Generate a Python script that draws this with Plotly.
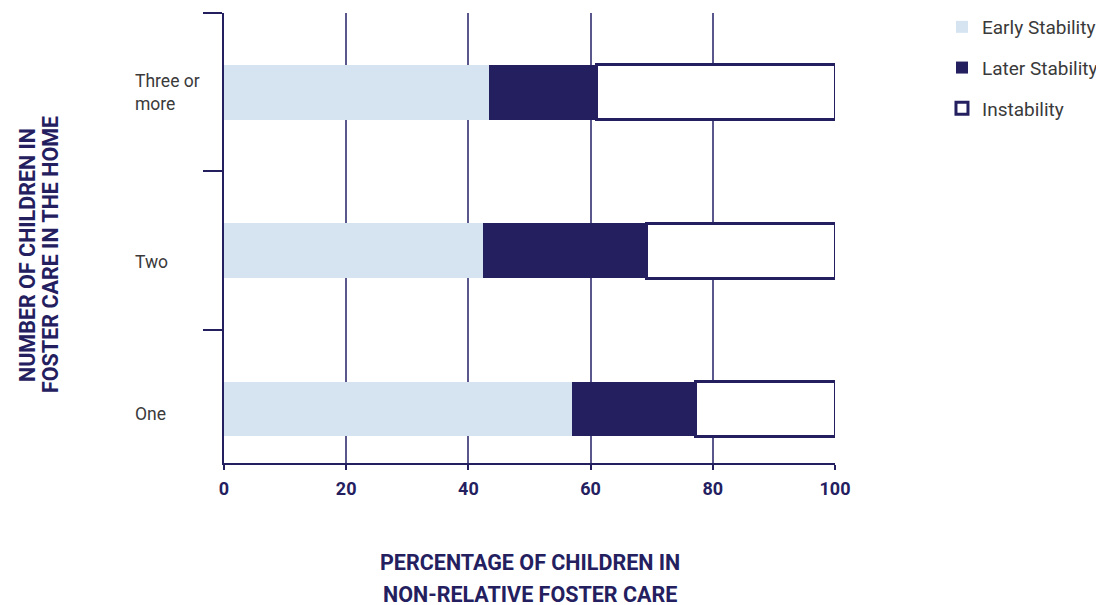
import plotly.graph_objects as go

categories = ["One", "Two", "Three or more"]
category_labels = ["One", "Two", "Three or<br>more"]
early_stability = [56.9, 42.4, 43.3]
later_stability = [20.3, 26.8, 17.6]
instability = [22.8, 30.8, 39.1]
x_ticks = [0, 20, 40, 60, 80, 100]
y_title_lines = ["NUMBER OF CHILDREN IN", "FOSTER CARE IN THE HOME"]
x_title_lines = ["PERCENTAGE OF CHILDREN IN", "NON-RELATIVE FOSTER CARE"]

NAVY = "#24205f"
LIGHT = "#d6e4f1"
GRID = "#5a578c"
FONT = "Roboto, Liberation Sans, sans-serif"

fig = go.Figure()
fig.add_trace(go.Bar(
    y=categories, x=early_stability, orientation="h", name="Early Stability",
    marker=dict(color=LIGHT, line=dict(width=0)), width=0.345,
    legendgroup="a",
))
fig.add_trace(go.Bar(
    y=categories, x=later_stability, orientation="h", name="Later Stability",
    marker=dict(color=NAVY, line=dict(width=0)), width=0.345,
    legendgroup="b",
))
fig.add_trace(go.Bar(
    y=categories, x=instability, orientation="h", name="Instability",
    marker=dict(color="white", line=dict(color=NAVY, width=3)), width=0.345,
    legendgroup="c",
))

PLOT_W = 611
PLOT_H = 450

label_shift = {"One": -5, "Two": -11, "Three or more": 0}
annotations = []
for cat, lab in zip(categories, category_labels):
    annotations.append(dict(
        x=(133 - 224) / PLOT_W, xref="paper", y=cat, yref="y", text=lab, showarrow=False,
        xanchor="left", yanchor="middle", align="left", yshift=label_shift[cat],
        font=dict(family=FONT, size=17.5, color="#3a3a3a"),
    ))
for line, xpx in zip(y_title_lines, [27, 50]):
    annotations.append(dict(
        x=(xpx - 224) / PLOT_W, xref="paper", y=(463 - 255) / PLOT_H, yref="paper",
        text=f"<b>{line}</b>",
        showarrow=False, textangle=-90, xanchor="center", yanchor="middle",
        font=dict(family=FONT, size=21.5, color=NAVY),
    ))
for line, ypx in zip(x_title_lines, [562, 594]):
    annotations.append(dict(
        x=0.5, xref="paper", y=(463 - ypx) / PLOT_H, yref="paper",
        text=f"<b>{line}</b>", showarrow=False,
        xanchor="center", yanchor="middle", font=dict(family=FONT, size=21.5, color=NAVY),
    ))

fig.update_layout(
    width=1104, height=605,
    margin=dict(l=216, r=277, t=5, b=150),
    barmode="stack",
    plot_bgcolor="white", paper_bgcolor="white",
    font=dict(family=FONT, size=17, color=NAVY),
    xaxis=dict(
        range=[0, 100], tickvals=x_ticks, ticktext=[f"<b>{v}</b>" for v in x_ticks],
        showgrid=True, gridcolor=GRID, gridwidth=1.5,
        showline=True, linecolor=NAVY, linewidth=2,
        ticks="outside", ticklen=5, tickcolor=NAVY, tickwidth=1.5,
        ticklabelstandoff=3,
        tickfont=dict(family=FONT, size=18, color=NAVY),
        zeroline=False, fixedrange=True,
    ),
    yaxis=dict(
        type="category", categoryorder="array", categoryarray=categories,
        range=[-0.34, 2.5], tickson="boundaries",
        showticklabels=False, ticks="outside", ticklen=19, tickcolor=NAVY, tickwidth=2,
        showline=True, linecolor=NAVY, linewidth=2, showgrid=False,
        zeroline=False, fixedrange=True,
    ),
    legend=dict(
        xref="container", yref="container", x=0.846, y=1.0,
        xanchor="left", yanchor="top",
        traceorder="grouped", tracegroupgap=13,
        font=dict(family=FONT, size=19, color="#3a3a3a"),
        bgcolor="rgba(0,0,0,0)",
    ),
    annotations=annotations,
    showlegend=True,
)

fig.write_html("out.html")
